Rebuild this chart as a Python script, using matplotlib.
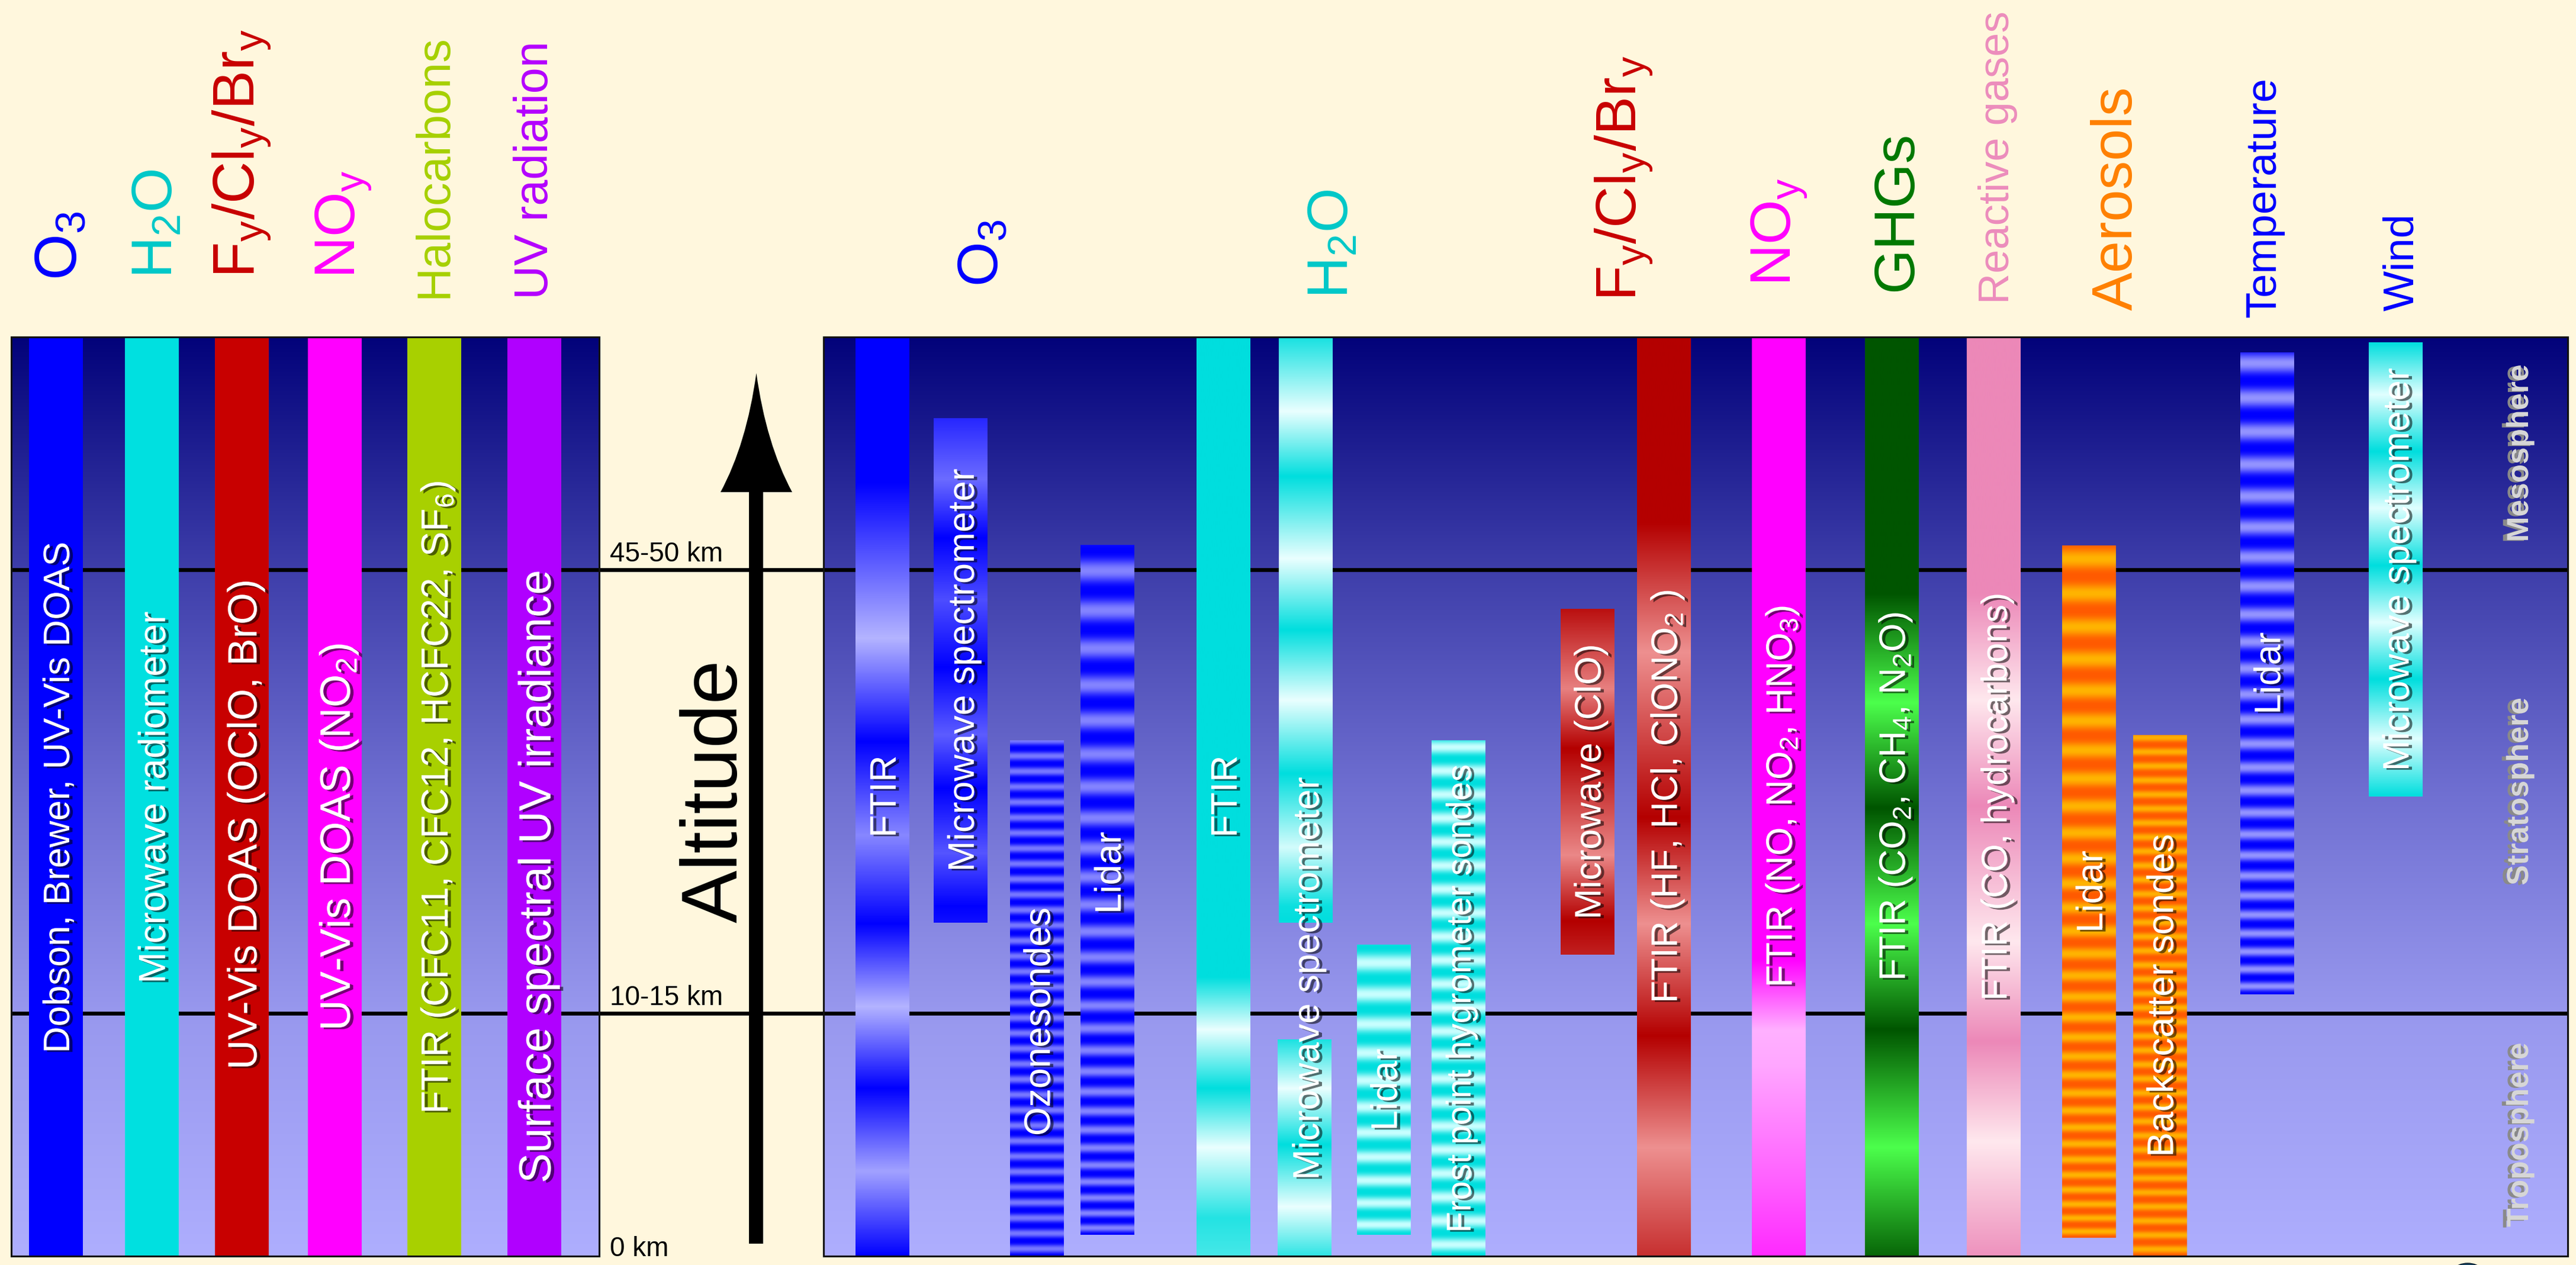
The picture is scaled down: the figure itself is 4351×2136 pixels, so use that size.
import numpy as np
import matplotlib.pyplot as plt
from matplotlib import patheffects as pe
from matplotlib.colors import to_rgb
from matplotlib.path import Path
from matplotlib.patches import PathPatch, Rectangle, Ellipse

plt.rcParams['font.family'] = ['Liberation Sans', 'DejaVu Sans']
plt.rcParams['mathtext.default'] = 'regular'

# ---------------------------------------------------------------
# Data
# altitude is in diagram units: 0 = ground, 100 = top of the panels
# ---------------------------------------------------------------
tropopause = 26.4    # 10-15 km
stratopause = 74.7   # 45-50 km
boundary_alts = [0, tropopause, stratopause]
boundary_labels = ['0 km', '10-15 km', '45-50 km']
layer_names = ['Troposphere', 'Stratosphere', 'Mesosphere']

# total column measurements (left panel)
column_species = ['O$_3$', 'H$_2$O', 'F$_y$/Cl$_y$/Br$_y$', 'NO$_y$',
                  'Halocarbons', 'UV radiation']
column_instruments = ['Dobson, Brewer, UV-Vis DOAS', 'Microwave radiometer',
                      'UV-Vis DOAS (OClO, BrO)', 'UV-Vis DOAS (NO$_2$)',
                      'FTIR (CFC11, CFC12, HCFC22, SF$_6$)',
                      'Surface spectral UV irradiance']
column_bottom = [0, 0, 0, 0, 0, 0]
column_top = [100, 100, 100, 100, 100, 100]

# profile measurements (right panel)
profile_species = ['O$_3$', 'H$_2$O', 'F$_y$/Cl$_y$/Br$_y$', 'NO$_y$', 'GHGs',
                   'Reactive gases', 'Aerosols', 'Temperature', 'Wind']
profile_instruments = ['FTIR', 'Microwave spectrometer', 'Ozonesondes', 'Lidar',
                       'FTIR', 'Microwave spectrometer', '', 'Lidar',
                       'Frost point hygrometer sondes',
                       'Microwave (ClO)', 'FTIR (HF, HCl, ClONO$_2$ )',
                       'FTIR (NO, NO$_2$, HNO$_3$)', 'FTIR (CO$_2$, CH$_4$, N$_2$O)',
                       'FTIR (CO, hydrocarbons)',
                       'Lidar', 'Backscatter sondes', 'Lidar', 'Microwave spectrometer']
profile_bottom = [0, 36.3, 0, 2.3, 0, 36.3, 0, 2.3, 0,
                  32.8, 0, 0, 0, 0, 2.0, 0, 28.5, 50.0]
profile_top = [100, 91.2, 56.1, 77.4, 100, 100, 23.6, 33.9, 56.1,
               70.4, 100, 100, 100, 100, 77.3, 56.7, 98.3, 99.4]

# ---------------------------------------------------------------
# Layout (pixels of the 4351 x 2136 canvas)
# ---------------------------------------------------------------
W, H = 4351, 2136
GROUND_PX, TOP_PX = 2121, 569
PX = (GROUND_PX - TOP_PX) / 100.0     # pixels per diagram unit


def alt(ypx):
    return (GROUND_PX - ypx) / PX


LEFT_PANEL = (19, 1012)
RIGHT_PANEL = (1391, 4337)
BAR_W = 91

column_x = [94.5, 256, 408.5, 565.5, 733.5, 902.5]
column_label_alt = [49.9, 49.9, 47.0, 45.6, 49.9, 41.3]
column_label_size = [45, 46, 50, 52, 46, 55]
column_colors = ['#0000ff', '#00e0e0', '#c80000', '#ff00ff', '#a8d000', '#b000ff']

# header labels: baseline x, text start y (px), size, colour
column_head = [(130, 473, 72, '#0000ff'), (291, 470, 70, '#00c8c8'),
               (429, 469, 71, '#c80000'), (600, 470, 70, '#ff00ff'),
               (754, 503, 57, '#a6d000'), (925, 505, 57, '#b400ff')]
profile_head = [(1685, 484, 70, '#0000ff'), (2277, 504, 70, '#00c8c8'),
                (2764, 508, 70, '#c80000'), (3025, 483, 70, '#ff00ff'),
                (3229, 492, 70, '#007800'), (3393, 513, 52, '#ec8cbc'),
                (3601, 524, 70, '#ff8000'), (3843, 536, 52, '#0000ff'),
                (4076, 525, 52, '#0000ff')]

profile_x = [1490.5, 1622.5, 1751, 1870.5, 2066.5, 2205, 2203, 2337, 2463,
             2681, 2810.5, 3004.5, 3195.5, 3367.5, 3528.5, 3648, 3829, 4046]
profile_label_alt = [None, None, 25.5, 41.7, None, 30.2, None, None, None,
                     None, None, None, None, None, None, None, None, None]
profile_label_size = [45, 45, 45, 45, 45, 45, 45, 45, 42,
                      45, 45, 45, 45, 44, 45, 45, 45, 45]

BLUE, BLUE_L = '#0000ff', '#b4b4ff'
CYAN, CYAN_L = '#00dede', '#eaffff'
RED, RED_L = '#b40000', '#f4a0a0'

# fill styles: ('smooth', base, light, [(y px, mix), ...]) or
#              ('stripes', base, light, period at top, period at bottom)
profile_fill = [
    ('smooth', BLUE, BLUE_L, [(569, 0), (815, 0), (1078, 1), (1252, 0), (1411, .75),
                              (1560, 0), (1700, 1), (1838, 0), (1978, .9), (2121, 0)]),
    ('smooth', BLUE, '#9a9aff', [(706, .25), (809, .7), (908, 0), (1013, .5), (1127, 0),
                                 (1241, .6), (1331, 0), (1440, .55), (1530, 0), (1558, .1)]),
    ('stripes', BLUE, '#7878ff', 26, 26),
    ('stripes', BLUE, '#8484ff', 70, 24),
    ('smooth', CYAN, CYAN_L, [(569, 0), (1650, 0), (1739, 1), (1838, 0), (1938, 1),
                              (2057, .15), (2121, .3)]),
    ('smooth', CYAN, CYAN_L, [(569, .1), (694, 1), (804, 0), (943, 1), (1063, 0),
                              (1182, 1), (1306, 0), (1431, .9), (1530, .05), (1558, 0)]),
    ('smooth', CYAN, CYAN_L, [(1754, .1), (1838, 1), (1933, 0), (2038, 1), (2121, .2)]),
    ('stripes', CYAN, '#c8ffff', 55, 35),
    ('stripes', CYAN, '#c8ffff', 40, 40),
    ('smooth', RED, RED_L, [(1029, .1), (1163, .8), (1264, 0), (1444, .85), (1555, 0),
                            (1612, .2)]),
    ('smooth', RED, RED_L, [(569, 0), (883, 0), (1102, .9), (1381, 0), (1560, .9),
                            (1749, 0), (1938, .9), (2121, .3)]),
    ('smooth', '#ff00ff', '#ffd0ff', [(569, 0), (1620, 0), (1740, .85), (1800, .8),
                                      (2000, .45), (2121, .2)]),
    ('smooth', '#005500', '#4cff4c', [(569, 0), (1003, 0), (1187, 1), (1365, 0),
                                      (1560, 1), (1739, 0), (1938, 1), (2121, .1)]),
    ('smooth', '#ec88b8', '#ffe8ee', [(569, 0), (1003, 0), (1182, 1), (1361, 0),
                                      (1590, 1), (1759, 0), (1928, 1), (2121, .1)]),
    ('stripes', '#ff5a00', '#ffb400', 60, 22),
    ('stripes', '#ff5a00', '#ffb000', 24, 24),
    ('stripes', BLUE, '#9494ff', 60, 28),
    ('smooth', CYAN, '#e0ffff', [(578, 0), (666, 1), (762, 0), (858, 1), (955, 0),
                                 (1051, 1), (1147, 0), (1248, 1), (1345, 0)]),
]

CREAM = '#fff7dd'
# background gradient of the panels (alt, rgb 0-255)
bg_keys = [(0, (174, 174, 254)), (tropopause, (152, 152, 238)), (50, (112, 112, 210)),
           (stratopause, (62, 62, 170)), (100, (2, 2, 122))]

# ---------------------------------------------------------------
fig = plt.figure(figsize=(W / 100, H / 100), dpi=100, facecolor=CREAM)
ax = fig.add_axes([0, 0, 1, 1])
ax.set_facecolor(CREAM)
ax.axis('off')

# panel backgrounds
grid = np.linspace(0, 100, 600)
ka = [k[0] for k in bg_keys]
bg = np.stack([np.interp(grid, ka, [k[1][c] for k in bg_keys]) for c in range(3)], axis=1) / 255
for x0, x1 in (LEFT_PANEL, RIGHT_PANEL):
    ax.imshow(bg[:, None, :], extent=(x0, x1, 0, 100), origin='lower', aspect='auto',
              interpolation='bilinear', zorder=1)

# layer boundaries
ax.hlines([tropopause, stratopause], LEFT_PANEL[0], RIGHT_PANEL[1], color='black',
          lw=4.7, zorder=2)


def bar_fill(xc, bottom, top, fill, zorder=3):
    kind = fill[0]
    base = np.array(to_rgb(fill[1]))
    rect = ax.bar(xc, top - bottom, bottom=bottom, width=BAR_W, color=base, lw=0,
                  zorder=zorder)[0]
    if kind == 'solid':
        return
    light = np.array(to_rgb(fill[2]))
    n = max(int(round((top - bottom) * PX)), 2)
    a = np.linspace(bottom, top, n)
    if kind == 'smooth':
        keys = sorted((alt(y), m) for y, m in fill[3])
        mix = np.interp(a, [k[0] for k in keys], [k[1] for k in keys])
    else:
        p_top, p_bot = fill[3], fill[4]
        frac = np.linspace(0, 1, n)
        period = p_bot + (p_top - p_bot) * frac
        phase = 2 * np.pi * np.cumsum(1.0 / period)
        mix = (0.5 - 0.5 * np.cos(phase)) ** 1.3
    img = base[None, :] * (1 - mix[:, None]) + light[None, :] * mix[:, None]
    im = ax.imshow(img[:, None, :], extent=(xc - BAR_W / 2, xc + BAR_W / 2, bottom, top),
                   origin='lower', aspect='auto', interpolation='bilinear',
                   zorder=zorder + 0.1)
    im.set_clip_path(rect)


def bar_label(xc, a, text, size):
    cap = 0.716 * size / 0.72
    ax.text(xc + cap / 2, a, text, rotation=90, rotation_mode='anchor',
            ha='center', va='baseline', fontsize=size, color='white', zorder=6,
            path_effects=[pe.withSimplePatchShadow(offset=(4, -2), shadow_rgbFace='black',
                                                   alpha=0.55)])


# left panel: total column
for i, name in enumerate(column_instruments):
    bar_fill(column_x[i], column_bottom[i], column_top[i], ('solid', column_colors[i]))
    bar_label(column_x[i], column_label_alt[i], name, column_label_size[i])

# right panel: profiles
for i, name in enumerate(profile_instruments):
    bar_fill(profile_x[i], profile_bottom[i], profile_top[i], profile_fill[i])
    if name:
        la = profile_label_alt[i]
        if la is None:
            la = (profile_bottom[i] + profile_top[i]) / 2
        bar_label(profile_x[i], la, name, profile_label_size[i])

# headers
for s, (x, y, size, c) in zip(column_species, column_head):
    ax.text(x, alt(y), s, rotation=90, rotation_mode='anchor', ha='left', va='baseline',
            fontsize=size, color=c, zorder=5)
for s, (x, y, size, c) in zip(profile_species, profile_head):
    ax.text(x, alt(y), s, rotation=90, rotation_mode='anchor', ha='left', va='baseline',
            fontsize=size, color=c, zorder=5)

# atmosphere layer names
layer_tops = boundary_alts[1:] + [100]
for name, lo, hi in zip(layer_names, boundary_alts, layer_tops):
    ax.text(4270, (lo + hi) / 2, name, rotation=90, rotation_mode='anchor',
            ha='center', va='baseline', fontsize=37, fontweight='bold', color='#d6d6d6',
            zorder=2.5,
            path_effects=[pe.withSimplePatchShadow(offset=(-5, -1), shadow_rgbFace='#8a8a8a',
                                                   alpha=1)])

# altitude labels in the gap
for a, lab in zip(boundary_alts, boundary_labels):
    ax.text(1030, a + (0.9 if a > 0 else 0), lab, ha='left', va='baseline',
            fontsize=33, color='black', zorder=5)

# altitude arrow
sx0, sx1, hx0, hx1, tipx = 1265, 1289, 1217, 1338, 1277.5
y_bot, y_base, y_tip = alt(2100), alt(831), alt(630)
verts = [(sx0, y_bot), (sx0, y_base), (hx0, y_base),
         (1261, alt(749.5)), (tipx, y_tip),
         (1294, alt(749.5)), (hx1, y_base),
         (sx1, y_base), (sx1, y_bot), (sx0, y_bot)]
codes = [Path.MOVETO, Path.LINETO, Path.LINETO, Path.CURVE3, Path.CURVE3,
         Path.CURVE3, Path.CURVE3, Path.LINETO, Path.LINETO, Path.CLOSEPOLY]
ax.add_patch(PathPatch(Path(verts, codes), facecolor='black', edgecolor='none', zorder=4))
ax.text(1245, 50.6, 'Altitude', rotation=90, rotation_mode='anchor', ha='center',
        va='baseline', fontsize=96, color='black', zorder=5)

# panel frames
for x0, x1 in (LEFT_PANEL, RIGHT_PANEL):
    ax.add_patch(Rectangle((x0, 0), x1 - x0, 100, facecolor='none', edgecolor='#111111',
                           lw=2.2, zorder=7))

# logo peeking in at the bottom edge
ax.add_patch(Ellipse((4168, alt(2170)), 76, 74 / PX, facecolor='#17425e',
                     edgecolor='#0a1a2a', lw=1, zorder=7))

ax.set_xlim(0, W)
ax.set_ylim(alt(H), alt(0))

fig.savefig('out.png', dpi=100, facecolor=CREAM)
